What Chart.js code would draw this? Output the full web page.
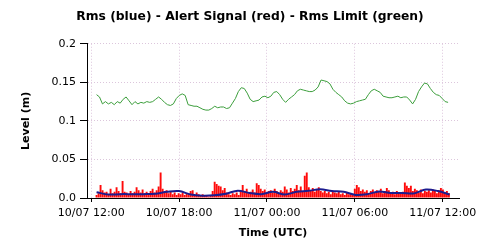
<!DOCTYPE html>
<html lang="en">
<head>
  <meta charset="UTF-8">
  <title>Rms / Alert Signal / Rms Limit</title>
  <script src="https://cdn.jsdelivr.net/npm/chart.js"></script>
  <style>
    html, body { margin: 0; padding: 0; background: #fff; }
    #chart { display: block; }
  </style>
</head>
<body>
<canvas id="chart" width="500" height="250"></canvas>
<script>
// time is in hours counted from 10/07 00:00 (UTC)
const seriesStart = 12 + 22 / 60;
const redStep = 8.2 / 60;
const greenStep = 12.1 / 60;
const blueStep = 48.2 / 60;

const xTicks = [12, 18, 24, 30, 36];
const yTicks = [0, 0.05, 0.1, 0.15, 0.2];

// Alert Signal (red bars)
const alertSignal = [
  0.004, 0.006, 0.017, 0.010, 0.007, 0.008, 0.005, 0.012, 0.006, 0.008,
  0.014, 0.009, 0.006, 0.022, 0.008, 0.007, 0.005, 0.009, 0.006, 0.008,
  0.014, 0.010, 0.007, 0.011, 0.006, 0.008, 0.005, 0.009, 0.012, 0.007,
  0.010, 0.015, 0.033, 0.012, 0.008, 0.010, 0.006, 0.009, 0.005, 0.007,
  0.004, 0.006, 0.005, 0.007, 0.004, 0.006, 0.005, 0.009, 0.010, 0.004,
  0.007, 0.005, 0.003, 0.005, 0.003, 0.004, 0.002, 0.004, 0.009, 0.021,
  0.018, 0.016, 0.015, 0.010, 0.013, 0.007, 0.005, 0.004, 0.006, 0.005,
  0.007, 0.004, 0.009, 0.017, 0.008, 0.012, 0.006, 0.008, 0.011, 0.007,
  0.019, 0.017, 0.012, 0.009, 0.011, 0.006, 0.009, 0.010, 0.007, 0.012,
  0.009, 0.006, 0.010, 0.008, 0.015, 0.011, 0.007, 0.013, 0.009, 0.012,
  0.017, 0.010, 0.015, 0.008, 0.029, 0.033, 0.014, 0.010, 0.013, 0.008,
  0.011, 0.014, 0.009, 0.007, 0.009, 0.006, 0.008, 0.005, 0.009, 0.007,
  0.006, 0.008, 0.005, 0.006, 0.004, 0.007, 0.005, 0.006, 0.004, 0.012,
  0.017, 0.014, 0.009, 0.011, 0.008, 0.010, 0.006, 0.009, 0.011, 0.007,
  0.010, 0.008, 0.012, 0.006, 0.009, 0.013, 0.010, 0.007, 0.008, 0.005,
  0.009, 0.007, 0.006, 0.008, 0.020, 0.016, 0.013, 0.016, 0.009, 0.012,
  0.010, 0.007, 0.011, 0.006, 0.009, 0.008, 0.010, 0.007, 0.011, 0.009,
  0.006, 0.010, 0.013, 0.011, 0.007, 0.009, 0.006
];

// Rms Limit (green line)
const rmsLimit = [
  0.134, 0.131, 0.122, 0.125, 0.122, 0.124, 0.121, 0.125, 0.123, 0.128,
  0.131, 0.126, 0.121, 0.125, 0.122, 0.124, 0.123, 0.125, 0.124, 0.125,
  0.128, 0.131, 0.128, 0.124, 0.121, 0.120, 0.122, 0.129, 0.133, 0.135,
  0.133, 0.121, 0.120, 0.119, 0.119, 0.117, 0.115, 0.114, 0.114, 0.116,
  0.119, 0.117, 0.118, 0.118, 0.116, 0.117, 0.123, 0.129, 0.138, 0.143,
  0.142, 0.136, 0.128, 0.125, 0.126, 0.127, 0.131, 0.132, 0.130, 0.132,
  0.137, 0.138, 0.134, 0.128, 0.124, 0.128, 0.131, 0.134, 0.139, 0.141,
  0.140, 0.139, 0.138, 0.138, 0.140, 0.144, 0.153, 0.152, 0.151, 0.148,
  0.141, 0.137, 0.134, 0.131, 0.126, 0.123, 0.122, 0.123, 0.125, 0.126,
  0.127, 0.128, 0.134, 0.139, 0.141, 0.139, 0.137, 0.132, 0.131, 0.130,
  0.130, 0.131, 0.132, 0.130, 0.131, 0.131, 0.127, 0.122, 0.128, 0.138,
  0.144, 0.149, 0.148, 0.142, 0.137, 0.134, 0.133, 0.129, 0.125, 0.124
];

// Rms (blue line)
const rms = [
  0.0075, 0.0045, 0.005, 0.005, 0.005, 0.0055, 0.008, 0.009, 0.0045, 0.003,
  0.0035, 0.0055, 0.0095, 0.0065, 0.005, 0.008, 0.0045, 0.008, 0.0093, 0.0113,
  0.009, 0.008, 0.004, 0.005, 0.0085, 0.0065, 0.0065, 0.006, 0.011, 0.009,
  0.0045
];

function toPoints(values, step) {
  return values.map((v, i) => ({ x: seriesStart + i * step, y: v }));
}

function pad(n) {
  return String(n).padStart(2, '0');
}

const font = { family: 'DejaVu Sans', size: 11 };
const gridColor = '#dcc6dc';

const ctx = document.getElementById('chart').getContext('2d');
const chart = new Chart(ctx, {
  type: 'bar',
  data: {
    datasets: [
      {
        type: 'line',
        label: 'Rms',
        data: toPoints(rms, blueStep),
        borderColor: '#1c1c8f',
        borderWidth: 2,
        pointRadius: 0,
        tension: 0.35,
        fill: false
      },
      {
        type: 'bar',
        label: 'Alert Signal',
        data: toPoints(alertSignal, redStep),
        backgroundColor: '#ff0a0a',
        borderWidth: 0,
        barPercentage: 1,
        categoryPercentage: 0.95
      },
      {
        type: 'line',
        label: 'Rms Limit',
        data: toPoints(rmsLimit, greenStep),
        borderColor: '#3c9e3c',
        borderWidth: 1,
        pointRadius: 0,
        tension: 0,
        fill: false
      }
    ]
  },
  options: {
    responsive: false,
    animation: false,
    layout: { padding: 0 },
    plugins: {
      legend: { display: false },
      tooltip: { enabled: false },
      title: {
        display: true,
        text: 'Rms (blue) - Alert Signal (red) - Rms Limit (green)',
        color: '#000',
        font: { family: 'DejaVu Sans', size: 12.3, weight: 'bold' },
        padding: { top: 9, bottom: 20 }
      }
    },
    scales: {
      x: {
        type: 'linear',
        offset: false,
        min: 11.714,
        max: 37.11,
        afterBuildTicks: (scale) => {
          scale.ticks = xTicks.map(v => ({ value: v }));
        },
        afterFit: (scale) => { scale.height = 52; },
        ticks: {
          color: '#000',
          font: font,
          maxRotation: 0,
          padding: 5,
          callback: (v) => (v < 24 ? '10/07 ' + pad(v) : '11/07 ' + pad(v - 24)) + ':00'
        },
        grid: {
          offset: false,
          color: gridColor,
          tickColor: '#000',
          tickLength: 4,
          drawOnChartArea: true
        },
        border: { color: '#000', width: 1, dash: [1, 2] },
        title: {
          display: true,
          text: 'Time (UTC)',
          color: '#000',
          font: { family: 'DejaVu Sans', size: 11, weight: 'bold' },
          padding: { top: 0, bottom: 10 }
        }
      },
      y: {
        min: 0,
        max: 0.2,
        afterBuildTicks: (scale) => {
          scale.ticks = yTicks.map(v => ({ value: v }));
        },
        afterFit: (scale) => { scale.width = 87; },
        ticks: {
          color: '#000',
          font: font,
          padding: 4,
          callback: (v) => (v === 0 ? '0.0' : String(v))
        },
        grid: {
          color: gridColor,
          tickColor: '#000',
          tickLength: 7
        },
        border: { color: '#000', width: 1, dash: [1, 2] },
        title: {
          display: true,
          text: 'Level (m)',
          color: '#000',
          font: { family: 'DejaVu Sans', size: 11, weight: 'bold' },
          padding: { top: 20, bottom: 0 }
        }
      },
      // empty right-hand margin so the title stays centred on the canvas
      margin: {
        type: 'linear',
        position: 'right',
        min: 0,
        max: 1,
        afterFit: (scale) => { scale.width = 41; },
        ticks: { display: false },
        grid: { drawOnChartArea: false, drawTicks: false },
        border: { display: false }
      }
    }
  }
});
</script>
</body>
</html>
